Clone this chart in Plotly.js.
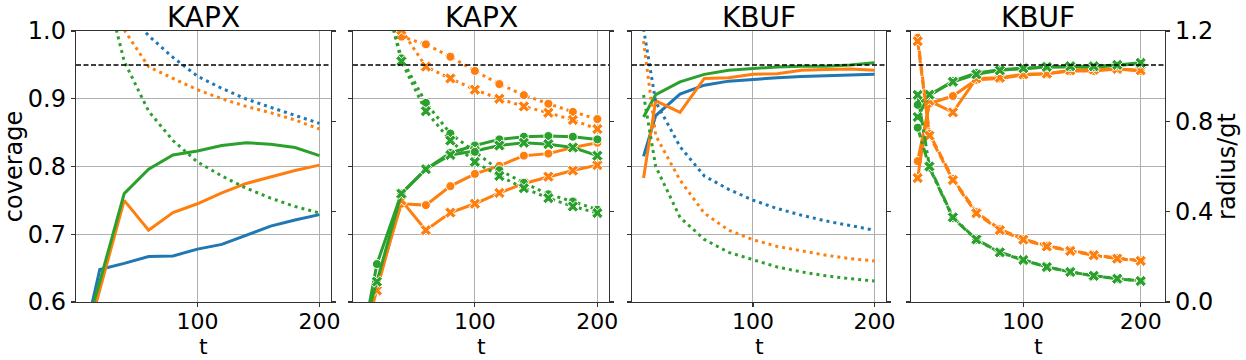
<!DOCTYPE html>
<html>
<head>
<meta charset="utf-8">
<script src="https://cdn.plot.ly/plotly-3.0.1.min.js"></script>
<style>html, body { margin: 0; padding: 0; background: #fff; }</style>
</head>
<body>
<div id="chart" style="width:1246px;height:360px"></div>
<script>
const t = [10, 20, 40, 60, 80, 100, 120, 140, 160, 180, 200]
const panelTitles = ['KAPX', 'KAPX', 'KBUF', 'KBUF']
const target = 0.95

// KAPX, x-marker runs (panel 1 without markers, panel 2 with)
const kapxCovBlue = [0.568, 0.648, 0.657, 0.667, 0.668, 0.678, 0.685, 0.698, 0.712, 0.721, 0.729]
const kapxCovOrange = [0.552, 0.617, 0.750, 0.706, 0.732, 0.745, 0.761, 0.775, 0.785, 0.794, 0.802]
const kapxCovGreen = [0.568, 0.630, 0.760, 0.796, 0.817, 0.823, 0.831, 0.835, 0.833, 0.828, 0.816]
const kapxRadBlue = [2.6, 1.9, 1.30, 1.179, 1.083, 1.0, 0.946, 0.899, 0.862, 0.828, 0.791]
const kapxRadOrange = [2.4, 1.7, 1.205, 1.042, 0.99, 0.94, 0.9, 0.866, 0.838, 0.806, 0.766]
const kapxRadGreen = [2.0, 1.5, 1.066, 0.845, 0.715, 0.62, 0.558, 0.504, 0.46, 0.423, 0.394]

// KAPX, circle-marker runs (panel 2)
const kapxCovOrangeC = [0.55, 0.625, 0.745, 0.743, 0.771, 0.789, 0.801, 0.816, 0.819, 0.828, 0.835]
const kapxCovGreenC = [0.56, 0.656, 0.760, 0.796, 0.820, 0.831, 0.840, 0.844, 0.845, 0.844, 0.840]
const kapxRadOrangeC = [2.5, 1.8, 1.175, 1.141, 1.086, 1.023, 0.965, 0.916, 0.878, 0.842, 0.810]
const kapxRadGreenC = [2.0, 1.5, 1.079, 0.882, 0.746, 0.665, 0.584, 0.528, 0.477, 0.445, 0.409]

// KBUF, x-marker runs (panel 3 without markers, panel 4 with)
const kbufCovBlue = [0.815, 0.875, 0.907, 0.920, 0.926, 0.929, 0.931, 0.933, 0.934, 0.936, 0.936]
const kbufCovOrange = [0.783, 0.897, 0.880, 0.930, 0.931, 0.936, 0.937, 0.942, 0.943, 0.944, 0.942]
const kbufCovGreen = [0.873, 0.906, 0.925, 0.936, 0.942, 0.945, 0.947, 0.948, 0.948, 0.950, 0.953]
const kbufRadBlue = [1.21, 0.887, 0.688, 0.558, 0.499, 0.451, 0.414, 0.384, 0.359, 0.337, 0.318]
const kbufRadOrange = [1.155, 0.737, 0.54, 0.393, 0.318, 0.276, 0.246, 0.226, 0.207, 0.192, 0.182]
const kbufRadGreen = [0.917, 0.6, 0.375, 0.277, 0.22, 0.186, 0.155, 0.133, 0.116, 0.103, 0.093]

// KBUF, circle-marker runs (panel 4)
const kbufCovOrangeC = [0.808, 0.893, 0.904, 0.928, 0.930, 0.935, 0.937, 0.941, 0.941, 0.944, 0.941]
const kbufCovGreenC = [0.891, 0.905, 0.926, 0.938, 0.943, 0.945, 0.947, 0.947, 0.947, 0.949, 0.952]
const kbufRadOrangeC = [1.17, 0.745, 0.545, 0.398, 0.322, 0.279, 0.249, 0.228, 0.209, 0.194, 0.184]
const kbufRadGreenC = [0.772, 0.595, 0.372, 0.276, 0.219, 0.185, 0.155, 0.133, 0.116, 0.103, 0.093]

const blue = '#1f77b4'
const orange = '#ff7f0e'
const green = '#2ca02c'
const dotted = '3px,4px'
const dashed = '9px,4px'
const dashdot = '10px,4px,3px,4px'
const font = 'DejaVu Sans, Arial, sans-serif'

function line(n, right, y, color, dash, symbol) {
  return {
    x: t, y: y,
    xaxis: 'x' + (n === 1 ? '' : n),
    yaxis: 'y' + (right ? n + 4 : (n === 1 ? '' : n)),
    mode: symbol ? 'lines+markers' : 'lines',
    line: { color: color, width: 3, dash: dash },
    marker: { symbol: symbol, size: symbol === 'x' ? 10 : 9, color: color, line: { color: 'white', width: 1 } },
    hoverinfo: 'skip'
  }
}

const traces = [
  // panel 1
  line(1, false, kapxCovBlue, blue, 'solid'),
  line(1, false, kapxCovOrange, orange, 'solid'),
  line(1, false, kapxCovGreen, green, 'solid'),
  line(1, true, kapxRadBlue, blue, dotted),
  line(1, true, kapxRadOrange, orange, dotted),
  line(1, true, kapxRadGreen, green, dotted),
  // panel 2
  line(2, false, kapxCovOrangeC, orange, 'solid', 'circle'),
  line(2, false, kapxCovOrange, orange, 'solid', 'x'),
  line(2, true, kapxRadOrangeC, orange, dotted, 'circle'),
  line(2, true, kapxRadOrange, orange, dotted, 'x'),
  line(2, false, kapxCovGreenC, green, 'solid', 'circle'),
  line(2, false, kapxCovGreen, green, 'solid', 'x'),
  line(2, true, kapxRadGreenC, green, dotted, 'circle'),
  line(2, true, kapxRadGreen, green, dotted, 'x'),
  // panel 3
  line(3, false, kbufCovBlue, blue, 'solid'),
  line(3, false, kbufCovOrange, orange, 'solid'),
  line(3, false, kbufCovGreen, green, 'solid'),
  line(3, true, kbufRadBlue, blue, dotted),
  line(3, true, kbufRadOrange, orange, dotted),
  line(3, true, kbufRadGreen, green, dotted),
  // panel 4
  line(4, false, kbufCovOrangeC, orange, 'solid', 'circle'),
  line(4, false, kbufCovOrange, orange, 'solid', 'x'),
  line(4, true, kbufRadOrangeC, orange, dashed, 'circle'),
  line(4, true, kbufRadOrange, orange, dashed, 'x'),
  line(4, false, kbufCovGreenC, green, 'solid', 'circle'),
  line(4, false, kbufCovGreen, green, 'solid', 'x'),
  line(4, true, kbufRadGreenC, green, dashdot, 'circle'),
  line(4, true, kbufRadGreen, green, dashdot, 'x')
]

// panel edges in pixels, turned into paper domains
const W = 1246, H = 360
const margin = { l: 76, r: 81, t: 31, b: 58 }
const plotW = W - margin.l - margin.r
const plotH = H - margin.t - margin.b
const panels = [[76, 331], [353, 609], [632, 886], [911, 1165]]
const xRanges = [[0.5, 209.5], [0.5, 209.5], [0.5, 209.5], [4.3, 220.7]]

const frame = {
  showline: true, linecolor: '#333', linewidth: 1.2, mirror: true,
  ticks: 'outside', ticklen: 4, tickwidth: 1.2, tickcolor: '#333',
  zeroline: false,
  tickfont: { family: font, size: 24, color: '#000' }
}

const layout = {
  width: W, height: H,
  margin: margin,
  paper_bgcolor: 'white', plot_bgcolor: 'white',
  showlegend: false,
  font: { family: font, color: '#000' },
  annotations: [],
  shapes: []
}

panels.forEach((p, i) => {
  const n = i + 1
  const sfx = n === 1 ? '' : n
  const dom = [(p[0] - margin.l) / plotW, (p[1] - margin.l) / plotW]
  const mid = (dom[0] + dom[1]) / 2
  layout['xaxis' + sfx] = Object.assign({}, frame, {
    domain: dom, anchor: 'y' + sfx, range: xRanges[i],
    tickvals: [100, 200], showgrid: true, gridcolor: '#b0b0b0', gridwidth: 1,
    ticklabelstandoff: -5,
    tickfont: { family: font, size: 22, color: '#000' }
  })
  layout['yaxis' + sfx] = Object.assign({}, frame, {
    anchor: 'x' + sfx, range: [0.6, 1.0], tick0: 0.6, dtick: 0.1, tickformat: '.1f',
    showgrid: true, gridcolor: '#b0b0b0', gridwidth: 1,
    showticklabels: n === 1,
    title: n === 1 ? { text: 'coverage', font: { family: font, size: 24 }, standoff: 4 } : { text: '' }
  })
  layout['yaxis' + (n + 4)] = Object.assign({}, frame, {
    overlaying: 'y' + sfx, anchor: 'x' + sfx, side: 'right', mirror: false,
    range: [0, 1.2], tickvals: [0, 0.4, 0.8, 1.2], tickformat: '.1f',
    showgrid: false, showticklabels: n === 4,
    title: n === 4 ? { text: 'radius/gt', font: { family: font, size: 24 }, standoff: 4 } : { text: '' }
  })
  // panel title
  layout.annotations.push({
    text: panelTitles[i], xref: 'paper', yref: 'paper',
    x: mid, y: 1 + (margin.t - 17) / plotH, xanchor: 'center', yanchor: 'middle',
    borderpad: 0, showarrow: false, font: { family: font, size: 28, color: '#000' }
  })
  // x axis title, sitting on the bottom edge like the original
  layout.annotations.push({
    text: 't', xref: 'paper', yref: 'paper',
    x: mid, y: -margin.b / plotH, xanchor: 'center', yanchor: 'bottom',
    borderpad: 0, showarrow: false, font: { family: font, size: 22, color: '#000' }
  })
  layout.shapes.push({
    type: 'line', xref: 'x' + sfx + ' domain', yref: 'y' + sfx,
    x0: 0, x1: 1, y0: target, y1: target, layer: 'above',
    line: { color: '#000', width: 1.5, dash: '5px,2.5px' }
  })
})

Plotly.newPlot('chart', traces, layout, { displayModeBar: false, staticPlot: true })
</script>
</body>
</html>
